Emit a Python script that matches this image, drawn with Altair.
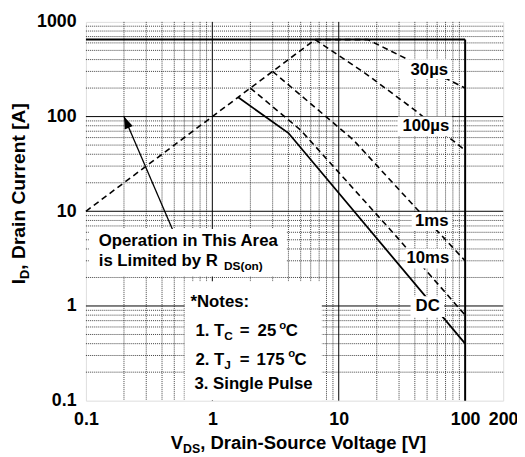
import altair as alt
import pandas as pd

# ---------------- data ----------------
x_ticks = [0.1, 1, 10, 100, 200]
y_ticks = [0.1, 1, 10, 100, 1000]

rds_v = [0.1, 6.5]
rds_i = [10, 650]
us30_v = [6.5, 17, 100]
us30_i = [650, 650, 200]
us100_v = [6.5, 16, 40, 100]
us100_i = [650, 290, 117, 44]
ms1_v = [3, 13, 38, 100]
ms1_i = [300, 57, 12, 3.0]
ms10_v = [2, 5, 27, 100]
ms10_i = [200, 72, 5.9, 0.8]
dc_v = [1.6, 4.0, 100]
dc_i = [160, 67, 0.4]

limit_current = 650   # A
limit_voltage = 100   # V

curve_labels = ["30\u00b5s", "100\u00b5s", "1ms", "10ms", "DC"]

# ---------------- helpers ----------------
FONT = "Liberation Sans"
W = {" ": 278, "!": 333, "(": 333, ")": 333, "*": 389, ",": 278, "-": 333, ".": 278,
     ":": 333, "=": 584, "[": 333, "]": 333, "\u00b5": 611}
for c in "0123456789":
    W[c] = 556
W.update({"A": 722, "C": 722, "D": 722, "I": 278, "J": 556, "L": 611, "N": 722, "O": 778,
          "P": 667, "R": 722, "S": 667, "T": 611, "V": 667,
          "a": 556, "b": 611, "c": 556, "d": 611, "e": 556, "f": 333, "g": 611, "h": 611,
          "i": 278, "k": 556, "l": 278, "m": 889, "n": 611, "o": 611, "p": 611, "r": 389,
          "s": 556, "t": 333, "u": 611, "v": 556, "w": 778, "y": 556})


def tw(s, size):
    return sum(W.get(ch, 600) for ch in s) * size / 1000.0


OX, OY = 87, 19          # page position of plot origin
PW, PH = 423, 384        # plot size

xscale = alt.Scale(type="log", domain=[0.1, 200], nice=False)
yscale = alt.Scale(type="log", domain=[0.1, 1000], nice=False)
lab = dict(labelFont=FONT, labelFontSize=18, labelFontWeight="bold", labelColor="black",
           ticks=False, domain=False, grid=False, title=None, labelOverlap=False)
fmt = "datum.value < 1 ? format(datum.value, '.1f') : format(datum.value, 'd')"
xaxis = alt.Axis(values=x_ticks, labelFlush=False, labelPadding=10, labelExpr=fmt, **lab)
yaxis = alt.Axis(values=y_ticks, labelPadding=10, labelExpr=fmt, **lab)


def X(f):
    return alt.X(f, type="quantitative", scale=xscale, axis=xaxis)


def Y(f):
    return alt.Y(f, type="quantitative", scale=yscale, axis=yaxis)


layers = []

# ---------------- grid ----------------
minor_x = [k * d for d in (0.1, 1, 10) for k in range(2, 10)]
minor_y = [k * d for d in (0.1, 1, 10, 100) for k in range(2, 10)]
major_x = [1, 10]
major_y = [1, 10, 100]

layers.append(alt.Chart(pd.DataFrame({"v": minor_x})).mark_rule(
    color="black", strokeWidth=1, strokeDash=[1, 1], opacity=0.75).encode(x=X("v")))
layers.append(alt.Chart(pd.DataFrame({"i": minor_y})).mark_rule(
    color="black", strokeWidth=1, strokeDash=[1, 1], opacity=0.75).encode(y=Y("i")))
layers.append(alt.Chart(pd.DataFrame({"v": major_x})).mark_rule(
    color="black", strokeWidth=1).encode(x=X("v")))
layers.append(alt.Chart(pd.DataFrame({"i": major_y})).mark_rule(
    color="black", strokeWidth=1).encode(y=Y("i")))

# limit lines
layers.append(alt.Chart(pd.DataFrame({"i": [limit_current], "v0": [x_ticks[0]], "v1": [limit_voltage]}))
              .mark_rule(color="black", strokeWidth=2)
              .encode(y=Y("i"), x=X("v0"), x2="v1"))
layers.append(alt.Chart(pd.DataFrame({"v": [limit_voltage], "i0": [y_ticks[0]], "i1": [limit_current]}))
              .mark_rule(color="black", strokeWidth=2)
              .encode(x=X("v"), y=Y("i0"), y2="i1"))

# ---------------- curves ----------------
rows = []
for name, vs, cs in [("rds", rds_v, rds_i), ("30us", us30_v, us30_i), ("100us", us100_v, us100_i),
                     ("1ms", ms1_v, ms1_i), ("10ms", ms10_v, ms10_i)]:
    for k, (v, c) in enumerate(zip(vs, cs)):
        rows.append({"series": name, "v": v, "i": c, "k": k})
dashed = pd.DataFrame(rows)
dc = pd.DataFrame({"series": "dc", "v": dc_v, "i": dc_i, "k": range(len(dc_v))})

layers.append(alt.Chart(dashed).mark_line(color="black", strokeWidth=1.6, strokeDash=[6, 4])
              .encode(x=X("v"), y=Y("i"), detail="series:N", order="k:Q"))
layers.append(alt.Chart(dc).mark_line(color="black", strokeWidth=1.8)
              .encode(x=X("v"), y=Y("i"), order="k:Q"))

# arrow
arrow = pd.DataFrame({"v": [0.49, 0.2], "i": [6.2, 100], "k": [0, 1]})
layers.append(alt.Chart(arrow).mark_line(color="black", strokeWidth=1.3)
              .encode(x=X("v"), y=Y("i"), order="k:Q"))
layers.append(alt.Chart(arrow.iloc[[1]]).mark_point(
    shape="M0,0 L0.36,1 L-0.36,1 Z", filled=True, color="black", opacity=1, size=600, angle=336.75)
    .encode(x=X("v"), y=Y("i")))

# ---------------- white label boxes ----------------
boxes = pd.DataFrame({
    "v0": [29.9, 29.4, 37.7, 33.8, 37.0, 0.1055, 0.604],
    "v1": [77.3, 78.7, 78.7, 77.3, 68.2, 3.85, 7.35],
    "i0": [249, 61.9, 6.34, 2.49, 0.767, 2.05, 0.101],
    "i1": [402, 100, 9.77, 4.02, 1.27, 6.49, 1.82],
})
layers.append(alt.Chart(boxes).mark_rect(fill="white")
              .encode(x=X("v0"), x2="v1", y=Y("i0"), y2="i1"))

labels = pd.DataFrame({"t": curve_labels,
                       "v": [52.1, 48.9, 54.5, 50.7, 50.5],
                       "i": [309, 78.7, 7.87, 3.24, 1.0]})
layers.append(alt.Chart(labels).mark_text(font=FONT, fontSize=17, fontWeight="bold", color="black",
                                          align="center", baseline="middle")
              .encode(x=X("v"), y=Y("i"), text="t:N"))


# ---------------- free text (pixel positioned) ----------------
def text_run(pieces, px, py, angle=0):
    """pieces: (text, size, baseline shift[, absolute page x]); px, py page coords of run start."""
    pos = 0.0
    out = []
    for p in pieces:
        txt, size, shift = p[:3]
        if len(p) > 3:
            pos = p[3] - px
        lead = len(txt) - len(txt.lstrip(" "))
        pos += tw(" " * lead, size)
        txt = txt.strip(" ")
        if angle == 0:
            x, y = px + pos, py + shift
        else:  # rotated 270: runs upward
            x, y = px + shift, py - pos
        out.append(alt.Chart(pd.DataFrame({"t": [txt]})).mark_text(
            font=FONT, fontSize=size, fontWeight="bold", color="black",
            align="left", baseline="alphabetic", angle=angle)
            .encode(x=alt.value(x - OX), y=alt.value(y - OY), text="t:N"))
        pos += tw(txt, size)
    return out


S = 17
layers += text_run([("Operation in This Area", S, 0)], 100, 246.7)
layers += text_run([("is Limited by R", S, 0), ("DS(on)", 12, 3.5, 227)], 100, 266.7)
layers += text_run([("*Notes:", S, 0)], 193, 308)
layers += text_run([("1. T", S, 0), ("C", 12, 4), ("=", S, 0, 243), ("25", S, 0, 261),
                    ("o", 11.5, -7.5, 283), ("C", S, 0, 289.5)], 198, 337.5)
layers += text_run([("2. T", S, 0), ("J", 12, 4), ("=", S, 0, 243), ("175", S, 0, 260),
                    ("o", 11.5, -7.5, 292), ("C", S, 0, 298.5)], 198, 366.5)
layers += text_run([("3. Single Pulse", S, 0)], 197, 391.5)

layers += text_run([("V", 18.7, 0), ("DS", 12.5, 4), (", Drain-Source Voltage [V]", 18.7, 0)], 173, 452)
layers += text_run([("I", 19.5, 0), ("D", 13, 4), (", Drain Current [A]", 19.5, 0)], 25, 285, angle=270)

chart = alt.layer(*layers).properties(
    width=PW, height=PH,
    autosize=alt.AutoSizeParams(type="none"),
    padding={"left": OX - 8, "top": OY - 8, "right": 14, "bottom": 52},
).configure_view(stroke="black", strokeWidth=2).configure(background="white")

chart.save("out.html", embed_options={"renderer": "svg", "actions": False})
